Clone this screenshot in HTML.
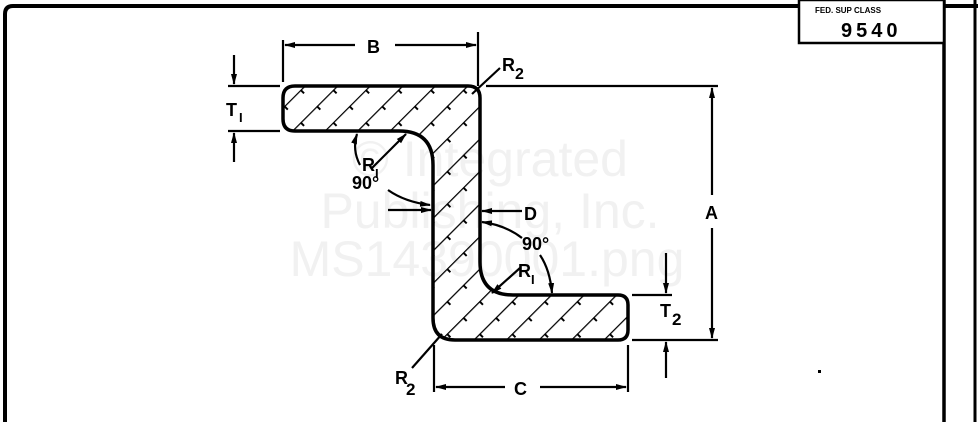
<!DOCTYPE html>
<html><head><style>
html,body{margin:0;padding:0;background:#fff;}
svg{display:block;}
text{font-family:"Liberation Sans",sans-serif;}
</style></head><body>
<svg width="978" height="422" viewBox="0 0 978 422" xmlns="http://www.w3.org/2000/svg">
<defs>
<pattern id="h" patternUnits="userSpaceOnUse" width="23" height="23" patternTransform="rotate(-45)">
<line x1="0" y1="0" x2="23" y2="0" stroke="#000" stroke-width="2.5"/>
<line x1="11" y1="-5" x2="11" y2="5" stroke="#000" stroke-width="2"/>
</pattern>
<marker id="a" markerWidth="11" markerHeight="8" refX="10" refY="4" orient="auto" markerUnits="userSpaceOnUse">
<path d="M0,1 L11,4 L0,7 Z" fill="#000"/></marker>
</defs>
<!-- watermark -->
<g fill="#f1f1f1" font-size="50" text-anchor="middle">
<text x="490" y="176">© Integrated</text>
<text x="490" y="228">Publishing, Inc.</text>
<text x="487" y="276">MS14390001.png</text>
</g>
<!-- border -->
<path d="M5,422 L5,14 Q5,6 13,6 L978,6" fill="none" stroke="#000" stroke-width="4"/>
<line x1="944" y1="0" x2="944" y2="422" stroke="#000" stroke-width="3.5"/>
<line x1="975" y1="0" x2="975" y2="422" stroke="#000" stroke-width="3"/>
<rect x="799" y="0" width="145" height="43" fill="#fff" stroke="#000" stroke-width="2.5"/>
<text x="815" y="13" font-size="8" font-weight="bold">FED. SUP CLASS</text>
<text x="841" y="37" font-size="20" font-weight="bold" letter-spacing="4">9540</text>
<rect x="818" y="370" width="3" height="3" fill="#000"/>
<!-- shape -->
<path d="M295,86 L468,86 Q480,86 480,98 L480,262 Q480,295 513,295 L618,295 Q628,295 628,305 L628,330 Q628,340 618,340 L455,340 Q433,340 433,318 L433,165 Q433,131 399,131 L295,131 Q283,131 283,119 L283,98 Q283,86 295,86 Z" fill="url(#h)" stroke="#000" stroke-width="3.5"/>
<g stroke="#000" stroke-width="2.2" fill="none">
<line x1="283" y1="40" x2="283" y2="82"/>
<line x1="478" y1="32" x2="478" y2="86"/>
<line x1="355" y1="45" x2="285" y2="45" marker-end="url(#a)"/>
<line x1="395" y1="45" x2="476" y2="45" marker-end="url(#a)"/>
<line x1="228" y1="86" x2="280" y2="86"/>
<line x1="228" y1="131" x2="280" y2="131"/>
<line x1="234" y1="55" x2="234" y2="84" marker-end="url(#a)"/>
<line x1="234" y1="162" x2="234" y2="133" marker-end="url(#a)"/>
<line x1="500" y1="68" x2="472" y2="94"/>
<line x1="486" y1="86" x2="718" y2="86"/>
<line x1="632" y1="340" x2="718" y2="340"/>
<line x1="712" y1="195" x2="712" y2="88" marker-end="url(#a)"/>
<line x1="712" y1="228" x2="712" y2="338" marker-end="url(#a)"/>
<line x1="632" y1="295" x2="672" y2="295"/>
<line x1="666" y1="253" x2="666" y2="293" marker-end="url(#a)"/>
<line x1="666" y1="378" x2="666" y2="342" marker-end="url(#a)"/>
<line x1="434" y1="345" x2="434" y2="392"/>
<line x1="628" y1="345" x2="628" y2="392"/>
<line x1="505" y1="387" x2="436" y2="387" marker-end="url(#a)"/>
<line x1="540" y1="387" x2="626" y2="387" marker-end="url(#a)"/>
<line x1="388" y1="210" x2="431" y2="210" marker-end="url(#a)"/>
<line x1="522" y1="211" x2="482" y2="211" marker-end="url(#a)"/>
<line x1="412" y1="368" x2="442" y2="334"/>
<line x1="372" y1="168" x2="406" y2="134" marker-end="url(#a)"/>
<path d="M360,165 Q352,150 357,134" marker-end="url(#a)"/>
<path d="M388,190 Q405,202 430,205" marker-end="url(#a)"/>
<line x1="520" y1="268" x2="492" y2="293" marker-end="url(#a)"/>
<path d="M522,238 Q505,225 482,222" marker-end="url(#a)"/>
<path d="M540,255 Q550,270 552,293" marker-end="url(#a)"/>
</g>
<g font-size="18" font-weight="bold" fill="#000">
<text x="367" y="53">B</text>
<text x="226" y="116">T</text><text x="239" y="122" font-size="13">I</text>
<text x="502" y="71">R</text><text x="515" y="79" font-size="16">2</text>
<text x="705" y="219">A</text>
<text x="660" y="317">T</text><text x="672" y="325" font-size="17">2</text>
<text x="514" y="395">C</text>
<text x="524" y="220">D</text>
<text x="395" y="384">R</text><text x="406" y="395" font-size="17">2</text>
<text x="362" y="171">R</text><text x="375" y="178" font-size="13">I</text>
<text x="352" y="189">90°</text>
<text x="518" y="277">R</text><text x="531" y="284" font-size="13">I</text>
<text x="522" y="250">90°</text>
</g>
</svg>
</body></html>
